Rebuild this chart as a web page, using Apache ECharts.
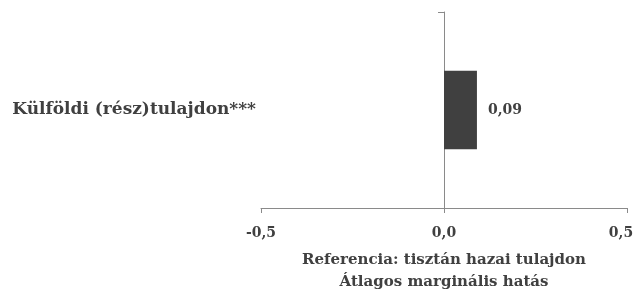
<!DOCTYPE html>
<html>
<head>
<meta charset="utf-8">
<script src="https://cdn.jsdelivr.net/npm/echarts@6/dist/echarts.min.js"></script>
<style>
  html, body { margin: 0; padding: 0; background: #fff; }
  #chart { width: 637px; height: 295px; }
</style>
</head>
<body>
<div id="chart"></div>
<script>
// data
const categories = ['Külföldi (rész)tulajdon***']
const values = [0.09]
const xMin = -0.5
const xMax = 0.5
const axisTitle = ['Referencia: tisztán hazai tulajdon', 'Átlagos marginális hatás']

const textColor = '#404040'
const lineColor = '#8a8a8a'
const fontFamily = '"DejaVu Serif", serif'

const fmt = (v) => v.toFixed(1).replace('.', ',')
const tickFont = { color: textColor, fontFamily: fontFamily, fontWeight: 'bold', fontSize: 14 }

const chart = echarts.init(document.getElementById('chart'))
const option = {
    animation: false,
    grid: {
        left: 261,
        right: 10,
        top: 12,
        bottom: 87,
        containLabel: false,
        outerBoundsMode: 'none',
    },
    xAxis: {
        type: 'value',
        min: xMin,
        max: xMax,
        interval: 0.5,
        name: axisTitle.join('\n'),
        nameLocation: 'middle',
        nameGap: 41,
        nameTextStyle: {
            color: textColor,
            fontFamily: fontFamily,
            fontWeight: 'bold',
            fontSize: 15,
            lineHeight: 22,
            verticalAlign: 'top',
        },
        axisLine: { show: true, onZero: false, lineStyle: { color: lineColor, width: 1 } },
        axisTick: { show: true, length: 5, lineStyle: { color: lineColor } },
        splitLine: { show: false },
        axisLabel: {
            ...tickFont,
            margin: 18,
            // last label nudged left so it is not cut by the page edge
            formatter: (v) => (v === xMax ? '{last|' + fmt(v) + '}' : fmt(v)),
            rich: {
                last: { ...tickFont, padding: [0, 12, 0, 0] },
            },
        },
    },
    yAxis: [
        {
            // line through zero with the band ticks
            type: 'category',
            data: categories,
            axisLine: { show: true, onZero: true, lineStyle: { color: lineColor, width: 1 } },
            axisTick: { show: true, length: 6, lineStyle: { color: lineColor } },
            axisLabel: { show: false },
        },
        {
            // category names at the left edge
            type: 'category',
            data: categories,
            position: 'left',
            axisLine: { show: false, onZero: false },
            axisTick: { show: false },
            axisLabel: {
                color: textColor,
                fontFamily: fontFamily,
                fontWeight: 'bold',
                fontSize: 17,
                margin: 5,
            },
        },
    ],
    series: [
        {
            type: 'bar',
            yAxisIndex: 0,
            data: values,
            barWidth: '40%',
            itemStyle: { color: '#404040' },
            label: {
                show: true,
                position: 'right',
                distance: 11,
                color: textColor,
                fontFamily: fontFamily,
                fontWeight: 'bold',
                fontSize: 14,
                formatter: (p) => p.value.toFixed(2).replace('.', ','),
            },
        },
    ],
}
chart.setOption(option)
</script>
</body>
</html>
